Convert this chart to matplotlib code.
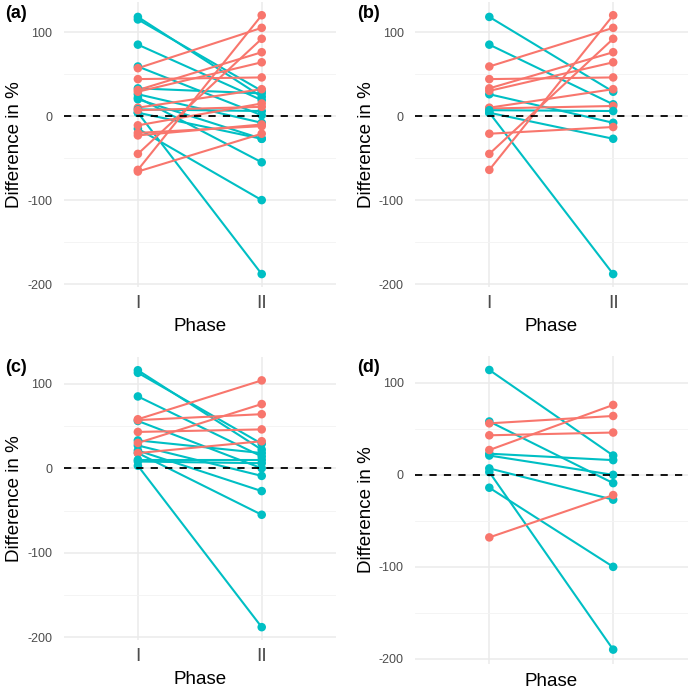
import matplotlib
matplotlib.use("Agg")
import matplotlib.pyplot as plt
import numpy as np

plt.rcParams['font.family'] = ['Liberation Sans', 'DejaVu Sans']
plt.rcParams['axes.unicode_minus'] = False

RED = "#F8766D"
TEAL = "#00BFC4"

phases = ["I", "II"]

# Panel (a)
a_phase1 = [118, 115, 85, 59, 33, 26, 22, 20, 4, 4, -15,
            57, 44, 31, 29, 10, 8, 7, -11, -20, -23, -45, -64, -66]
a_phase2 = [23, 30, 19, 1, 27, -8, -55, -27, -188, -27, -100,
            105, 46, 76, 64, 32, 6, 11, 15, -12, -10, 92, 120, -21]

# Panel (b)
b_phase1 = [118, 85, 26, 4, 4,
            59, 44, 33, 30, 10, 9, 7, -21, -45, -64]
b_phase2 = [29, 14, -8, -27, -188,
            105, 46, 76, 64, 32, 12, 6, -13, 92, 120]

# Panel (c)
c_phase1 = [116, 113, 85, 56, 33, 27, 21, 18, 3,
            58, 57, 43, 30, 18, 10, 8]
c_phase2 = [22, 29, 14, 0, 18, -9, -27, -55, -188,
            104, 64, 46, 76, 32, 10, 6]

# Panel (d)
d_phase1 = [114, 58, 23, 21, 7, 3, -14,
            56, 43, 27, -68]
d_phase2 = [21, -9, 16, 0, -27, -190, -100,
            64, 46, 76, -22]

panels = [
    ("(a)", a_phase1, a_phase2, True),
    ("(b)", b_phase1, b_phase2, True),
    ("(c)", c_phase1, c_phase2, True),
    ("(d)", d_phase1, d_phase2, False),
]

W, H = 694, 690
fig = plt.figure(figsize=(W / 100, H / 100), dpi=100)

# axes boxes in pixels: left, top, right, bottom
boxes = [
    (63.6, 2.3, 336, 287),
    (415, 2.3, 687.5, 287),
    (63.6, 357.4, 336, 640),
    (415, 356, 687.5, 663.6),
]
label_pos = [(5, 14), (357, 14), (5, 368), (357, 368)]

for (lab, p1, p2, show_x), (l, t, r, b), (lx, ly) in zip(panels, boxes, label_pos):
    ax = fig.add_axes([l / W, 1 - b / H, (r - l) / W, (b - t) / H])
    x = np.arange(len(phases)) + 1
    for v1, v2 in zip(p1, p2):
        col = RED if v2 > v1 else TEAL
        ax.plot(x, [v1, v2], color=col, lw=1.5, zorder=3, solid_capstyle='butt')
        ax.scatter(x, [v1, v2], color=col, s=38, zorder=4, edgecolors='none')
    ax.axhline(0, color="black", lw=1.3, ls=(0, (4, 4)), zorder=5)
    allv = list(p1) + list(p2)
    lo, hi = min(allv), max(allv)
    pad = (hi - lo) * 0.05
    ax.set_ylim(lo - pad, hi + pad)
    ax.set_xlim(0.4, 2.6)
    ax.set_yticks([-200, -100, 0, 100])
    ax.set_yticks([-150, -50, 50], minor=True)
    ax.set_xticks(x)
    if show_x:
        ax.set_xticklabels(phases, fontsize=14, color="#4D4D4D")
        ax.set_xlabel("Phase", fontsize=13.5, labelpad=4)
    else:
        ax.set_xticklabels([])
        ax.set_xlabel("Phase", fontsize=13.5, labelpad=1)
    ax.tick_params(axis='y', labelsize=9, colors="#4D4D4D", length=0, pad=8)
    ax.tick_params(axis='y', which='minor', length=0)
    ax.tick_params(axis='x', length=0, pad=6)
    ax.grid(True, which='major', color="#EBEBEB", lw=1.1)
    ax.grid(True, which='minor', axis='y', color="#F3F3F3", lw=0.6)
    ax.set_axisbelow(True)
    for s in ax.spines.values():
        s.set_visible(False)
    ax.set_ylabel("Difference in %", fontsize=13.5, labelpad=3)
    fig.text(lx / W, 1 - ly / H, lab, fontsize=13, fontweight='bold', ha='left', va='center')

fig.savefig("out.png", dpi=100)
